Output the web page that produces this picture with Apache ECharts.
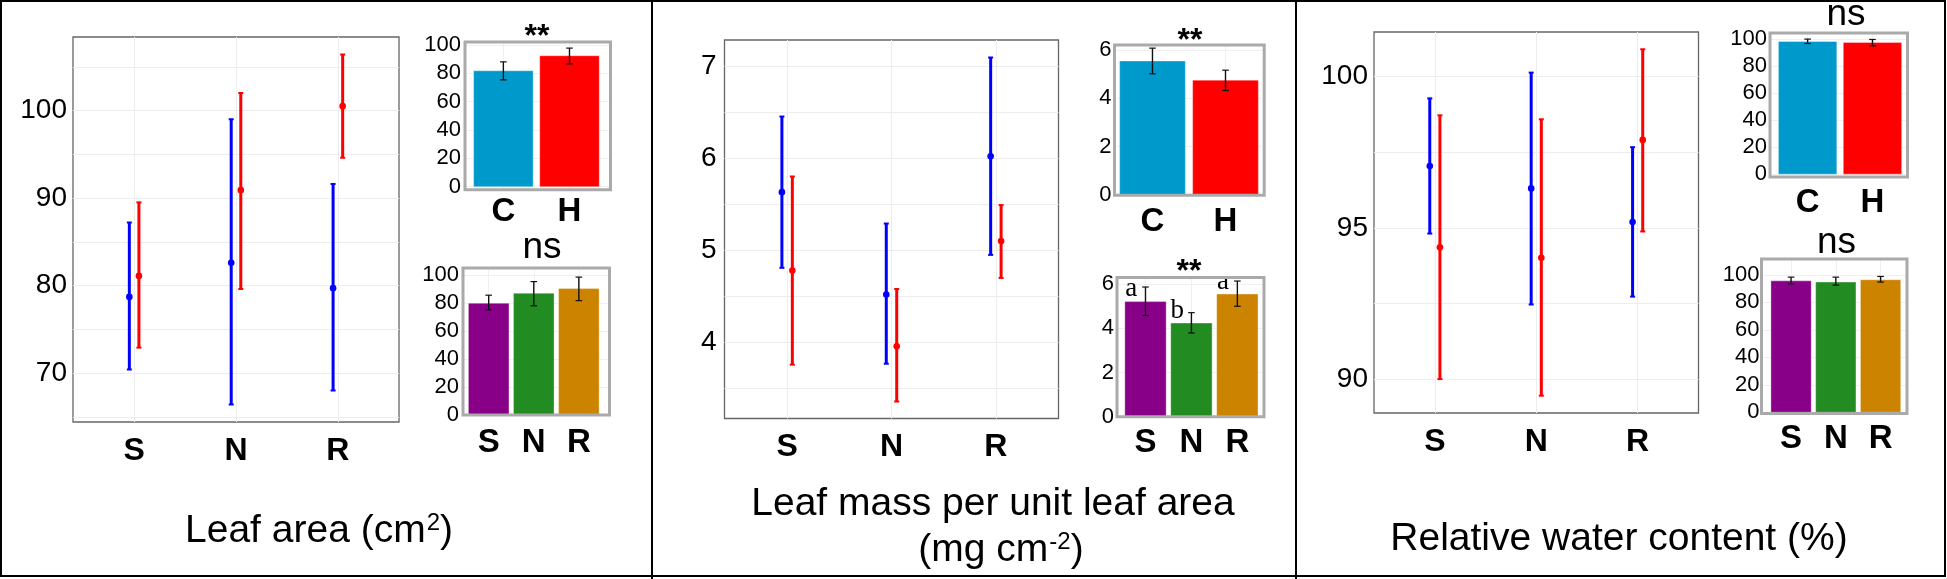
<!DOCTYPE html>
<html><head><meta charset="utf-8">
<script src="https://cdn.jsdelivr.net/npm/echarts@6/dist/echarts.min.js"></script>
<style>html,body{margin:0;padding:0;background:#fff}#c{width:1947px;height:579px}</style>
</head><body><div id="c"></div>
<script>
// ---------- data ----------
const groups = ['S', 'N', 'R'];
const treatments = ['C', 'H'];

// Leaf area (cm2)
const laC_mean = [78.7, 82.6, 79.7];
const laC_lo   = [70.4, 66.4, 68.0];
const laC_hi   = [87.2, 99.0, 91.6];
const laH_mean = [81.1, 90.9, 100.5];
const laH_lo   = [72.9, 79.6, 94.6];
const laH_hi   = [89.5, 102.0, 106.4];
const laTreat_mean = [81.7, 92.3];
const laTreat_lo   = [75.3, 86.6];
const laTreat_hi   = [88.0, 97.7];
const laGroup_mean = [79.8, 86.9, 90.2];
const laGroup_lo   = [75.0, 77.9, 81.6];
const laGroup_hi   = [85.5, 95.2, 98.4];

// Leaf mass per unit leaf area (mg cm-2)
const lmaC_mean = [5.63, 4.52, 6.02];
const lmaC_lo   = [4.81, 3.77, 4.95];
const lmaC_hi   = [6.45, 5.29, 7.09];
const lmaH_mean = [4.78, 3.96, 5.10];
const lmaH_lo   = [3.76, 3.36, 4.70];
const lmaH_hi   = [5.80, 4.58, 5.49];
const lmaTreat_mean = [5.54, 4.75];
const lmaTreat_lo   = [5.01, 4.32];
const lmaTreat_hi   = [6.07, 5.16];
const lmaGroup_mean = [5.21, 4.24, 5.55];
const lmaGroup_lo   = [4.58, 3.79, 5.00];
const lmaGroup_hi   = [5.87, 4.71, 6.14];
const lmaGroup_letters = ['a', 'b', 'a'];

// Relative water content (%)
const rwcC_mean = [97.04, 96.30, 95.19];
const rwcC_lo   = [94.81, 92.47, 92.73];
const rwcC_hi   = [99.27, 100.12, 97.66];
const rwcH_mean = [94.36, 94.01, 97.90];
const rwcH_lo   = [90.01, 89.46, 94.88];
const rwcH_hi   = [98.71, 98.58, 100.89];
const rwcTreat_mean = [98.2, 97.5];
const rwcTreat_lo   = [96.7, 95.0];
const rwcTreat_hi   = [100.0, 99.7];
const rwcGroup_mean = [95.6, 94.7, 96.4];
const rwcGroup_lo   = [93.4, 92.5, 94.7];
const rwcGroup_hi   = [98.3, 98.3, 98.8];

// tick labels
const laTicks = [70, 80, 90, 100];
const laGridTicks = [65, 70, 75, 80, 85, 90, 95, 100, 105];
const lmaTicks = [4, 5, 6, 7];
const lmaGridTicks = [3.5, 4, 4.5, 5, 5.5, 6, 6.5, 7];
const rwcTicks = [90, 95, 100];
const rwcGridTicks = [90, 92.5, 95, 97.5, 100];
const pctBarTicks = [0, 20, 40, 60, 80, 100];
const lmaBarTicks = [0, 2, 4, 6];

// ---------- styling ----------
const FONT = '"Liberation Sans", Arial, Helvetica, sans-serif';
const SERIF = '"Liberation Serif", "Times New Roman", serif';
const treatColors = ['#0099CC', '#FF0000'];
const groupColors = ['#880088', '#228B22', '#CC8400'];
const BLUE = '#0000FF', RED = '#FF0000';

const grids = [], xAxes = [], yAxes = [], series = [];

function addPanel(rect, xr, yr, xLabels, yLabelVals, yGridVals, o) {
  const idx = grids.length;
  grids.push({left: rect[0], top: rect[1], width: rect[2], height: rect[3], show: true,
    borderColor: o.border, borderWidth: o.bw, backgroundColor: 'transparent', z: o.gz || 0});
  const xs = xLabels.map((_, i) => i + 1);
  xAxes.push({type: 'value', gridIndex: idx, min: xr[0], max: xr[1],
    axisLine: {show: false}, axisTick: {show: false, customValues: xs},
    splitLine: {show: true, lineStyle: {color: o.gc, width: 1}},
    axisLabel: {customValues: xs, formatter: v => xLabels[Math.round(v) - 1] || '',
      fontSize: o.xfs, fontWeight: 'bold', color: '#000', fontFamily: FONT, margin: o.xm}});
  yAxes.push({type: 'value', gridIndex: idx, min: yr[0], max: yr[1],
    axisLine: {show: false}, axisTick: {show: false, customValues: yGridVals},
    splitLine: {show: true, lineStyle: {color: o.gc, width: 1}},
    axisLabel: {customValues: yLabelVals, formatter: v => String(v),
      fontSize: o.yfs, color: '#000', fontFamily: FONT, margin: o.ym}});
  return idx;
}

function errSeries(idx, means, lo, hi, offset, color) {
  const data = means.map((m, i) => [i + 1 + offset, lo[i], hi[i], m]);
  return {type: 'custom', xAxisIndex: idx, yAxisIndex: idx, data: data,
    encode: {x: 0, y: [1, 2, 3]}, z: 5, silent: true, clip: false,
    renderItem: (params, api) => {
      const x = api.value(0);
      const a = api.coord([x, api.value(1)]);
      const b = api.coord([x, api.value(2)]);
      const m = api.coord([x, api.value(3)]);
      return {type: 'group', children: [
        {type: 'line', shape: {x1: a[0], y1: a[1], x2: b[0], y2: b[1]}, style: {stroke: color, lineWidth: 3}},
        {type: 'line', shape: {x1: a[0] - 2.5, y1: a[1], x2: a[0] + 2.5, y2: a[1]}, style: {stroke: color, lineWidth: 2}},
        {type: 'line', shape: {x1: b[0] - 2.5, y1: b[1], x2: b[0] + 2.5, y2: b[1]}, style: {stroke: color, lineWidth: 2}},
        {type: 'circle', shape: {cx: m[0], cy: m[1], r: 3.3}, style: {fill: color}}
      ]};
    }};
}

function barSeries(idx, means, lo, hi, colors, letters) {
  const data = means.map((m, i) => [i + 1, m, lo[i], hi[i]]);
  return {type: 'custom', xAxisIndex: idx, yAxisIndex: idx, data: data,
    encode: {x: 0, y: [1, 2, 3]}, z: 2, silent: true,
    renderItem: (params, api) => {
      const i = params.dataIndex;
      const x = api.value(0), v = api.value(1);
      const tl = api.coord([x - 0.45, v]);
      const br = api.coord([x + 0.45, 0]);
      const e1 = api.coord([x, api.value(2)]);
      const e2 = api.coord([x, api.value(3)]);
      const ch = [
        {type: 'rect', shape: {x: tl[0], y: tl[1], width: br[0] - tl[0], height: br[1] - tl[1]},
          style: {fill: colors[i], stroke: 'rgba(255,255,255,0.35)', lineWidth: 1}},
        {type: 'line', shape: {x1: e1[0], y1: e1[1], x2: e2[0], y2: e2[1]}, style: {stroke: '#111', lineWidth: 1.4}},
        {type: 'line', shape: {x1: e1[0] - 3.3, y1: e1[1], x2: e1[0] + 3.3, y2: e1[1]}, style: {stroke: '#111', lineWidth: 1.2}},
        {type: 'line', shape: {x1: e2[0] - 3.3, y1: e2[1], x2: e2[0] + 3.3, y2: e2[1]}, style: {stroke: '#111', lineWidth: 1.2}}
      ];
      if (letters) {
        const p = api.coord([x - 0.31, v]);
        ch.push({type: 'text', x: p[0], y: p[1] + 1, z2: 10,
          style: {text: letters[i], fontSize: 27, fontFamily: SERIF, fill: '#000', align: 'center', verticalAlign: 'bottom'}});
      }
      return {type: 'group', children: ch};
    }};
}

const mainOpt = {border: '#666666', bw: 1.3, gc: '#EDEDED', xfs: 32, xm: 13, yfs: 28, ym: 6, gz: 0};
const smallOpt = (xm, ym) => ({border: '#AAAAAA', bw: 3, gc: '#F0F0F0', xfs: 33, xm: xm, yfs: 22, ym: ym, gz: 4});

// Panel 1: Leaf area
let g = addPanel([73, 37, 326, 385], [0.4, 3.6], [64.4, 108.4], groups, laTicks, laGridTicks, mainOpt);
series.push(errSeries(g, laC_mean, laC_lo, laC_hi, -0.047, BLUE));
series.push(errSeries(g, laH_mean, laH_lo, laH_hi, 0.047, RED));
g = addPanel([465, 42, 145.5, 147.8], [0.42, 2.62], [-2.2, 102], treatments, pctBarTicks, pctBarTicks, smallOpt(6, 4));
series.push(barSeries(g, laTreat_mean, laTreat_lo, laTreat_hi, treatColors));
g = addPanel([463, 268, 146.5, 147], [0.43, 3.68], [0, 104.9], groups, pctBarTicks, pctBarTicks, smallOpt(11, 4));
series.push(barSeries(g, laGroup_mean, laGroup_lo, laGroup_hi, groupColors));

// Panel 2: LMA
g = addPanel([724.5, 40, 334, 378.5], [0.4, 3.6], [3.176, 7.28], groups, lmaTicks, lmaGridTicks, Object.assign({}, mainOpt, {ym: 8}));
series.push(errSeries(g, lmaC_mean, lmaC_lo, lmaC_hi, -0.05, BLUE));
series.push(errSeries(g, lmaH_mean, lmaH_lo, lmaH_hi, 0.05, RED));
g = addPanel([1114.5, 45, 149.7, 150.2], [0.48, 2.53], [0, 6.2], treatments, lmaBarTicks, lmaBarTicks, smallOpt(10, 3));
series.push(barSeries(g, lmaTreat_mean, lmaTreat_lo, lmaTreat_hi, treatColors));
g = addPanel([1117, 277.5, 147, 139.3], [0.38, 3.58], [0, 6.3], groups, lmaBarTicks, lmaBarTicks, smallOpt(10, 3));
series.push(barSeries(g, lmaGroup_mean, lmaGroup_lo, lmaGroup_hi, groupColors, lmaGroup_letters));

// Panel 3: RWC
g = addPanel([1374, 32, 324.5, 381], [0.4, 3.6], [88.89, 101.46], groups, rwcTicks, rwcGridTicks, mainOpt);
series.push(errSeries(g, rwcC_mean, rwcC_lo, rwcC_hi, -0.05, BLUE));
series.push(errSeries(g, rwcH_mean, rwcH_lo, rwcH_hi, 0.05, RED));
g = addPanel([1770, 33, 137.5, 144], [0.42, 2.54], [-2.1, 104.5], treatments, pctBarTicks, pctBarTicks, smallOpt(9, 3));
series.push(barSeries(g, rwcTreat_mean, rwcTreat_lo, rwcTreat_hi, treatColors));
g = addPanel([1761.5, 259, 145.5, 154.5], [0.34, 3.59], [-0.9, 111.5], groups, pctBarTicks, pctBarTicks, smallOpt(9, 2));
series.push(barSeries(g, rwcGroup_mean, rwcGroup_lo, rwcGroup_hi, groupColors));

// ---------- decorations & titles ----------
function txt(text, x, y, size, extra) {
  return Object.assign({type: 'text', x: x, y: y, z: 20, silent: true,
    style: Object.assign({text: text, fontSize: size, fontFamily: FONT, fill: '#000', align: 'center', verticalAlign: 'middle'}, extra || {})});
}
const supRich = {sup: {fontSize: 24, fontFamily: FONT, verticalAlign: 'top', padding: [0, 0, 0, 1]}};
const graphics = [
  {type: 'rect', z: 30, silent: true, shape: {x: 1, y: 1, width: 1944, height: 575}, style: {fill: 'none', stroke: '#000', lineWidth: 2}},
  {type: 'line', z: 30, silent: true, shape: {x1: 652, y1: 0, x2: 652, y2: 579}, style: {stroke: '#000', lineWidth: 2}},
  {type: 'line', z: 30, silent: true, shape: {x1: 1296, y1: 0, x2: 1296, y2: 579}, style: {stroke: '#000', lineWidth: 2}},
  txt('Leaf area (cm{sup|2})', 319, 531, 39, {rich: supRich}),
  txt('Leaf mass per unit leaf area', 993, 504, 39),
  txt('(mg cm{sup|-2})', 1001, 550, 39, {rich: supRich}),
  txt('Relative water content (%)', 1619, 539, 39),
  txt('**', 537, 37, 32, {fontWeight: 'bold'}),
  txt('ns', 542, 248, 37),
  txt('**', 1190, 41, 32, {fontWeight: 'bold'}),
  txt('**', 1189, 272, 32, {fontWeight: 'bold'}),
  txt('ns', 1846, 15, 37),
  txt('ns', 1836.5, 243, 37)
];

const chart = echarts.init(document.getElementById('c'), null, {renderer: 'canvas', width: 1947, height: 579});
chart.setOption({
  animation: false,
  backgroundColor: '#fff',
  grid: grids, xAxis: xAxes, yAxis: yAxes, series: series,
  graphic: graphics
});
</script>
</body></html>
